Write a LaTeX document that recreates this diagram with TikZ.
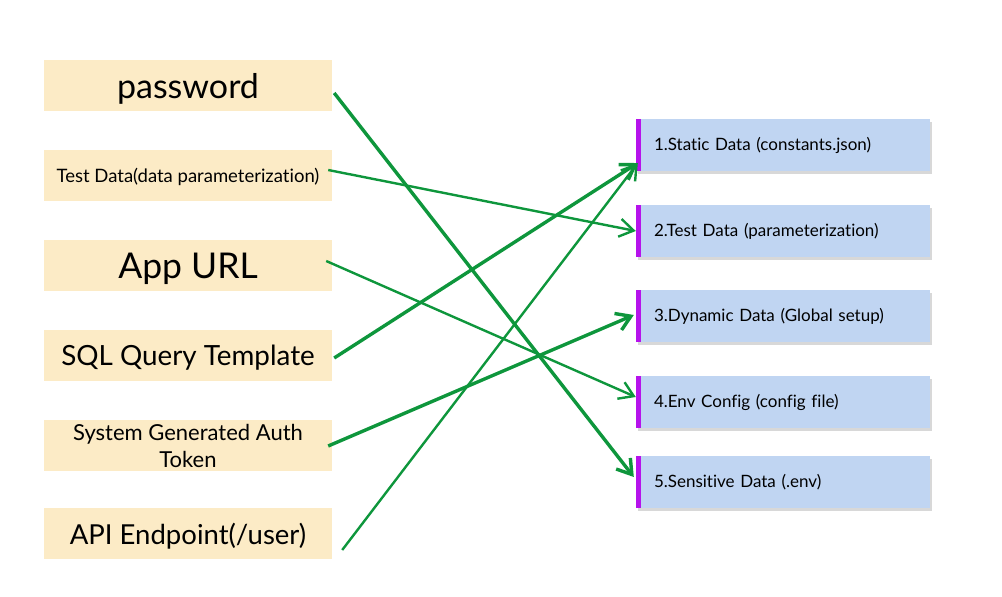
\documentclass[tikz,border=0pt]{standalone}
\usepackage{fontspec}
\setmainfont{Lato}[Ligatures=NoCommon]
\usetikzlibrary{arrows.meta, shadows}
\definecolor{peach}{RGB}{252,235,198}
\definecolor{paleblue}{RGB}{192,213,242}
\definecolor{stripe}{RGB}{182,18,236}
\definecolor{linkgreen}{RGB}{14,150,60}

\begin{document}
\begin{tikzpicture}[x=1pt, y=-1pt,
    srcbox/.style={fill=peach, minimum width=288pt, minimum height=51pt, inner sep=2pt, align=center, text depth=0pt},
    dstbox/.style={fill=paleblue, minimum width=294pt, minimum height=52pt, text width=258pt,
      align=left, font=\fontsize{17}{20}\selectfont,
      drop shadow={shadow xshift=1.5pt, shadow yshift=-2.5pt, fill=black!30}},
    link/.style={draw=linkgreen, -{Straight Barb[length=14pt, width=18pt]}}]
  \useasboundingbox (0,0) rectangle (1002,597);

  % sources on the left
  \foreach \name/\y/\fs/\lh/\txt in {l1/85.5/34/38/password,
      l2/175.5/18.5/22/Test Data(data parameterization),
      l3/265.5/35.5/40/App URL,
      l4/355.5/27.8/32/SQL Query Template,
      l5/445.5/22/27/{System Generated Auth\\Token},
      l6/533.5/27.5/32/{API Endpoint(/user)}} {
    \node[srcbox, font=\fontsize{\fs}{\lh}\selectfont] (\name) at (188,\y) {\txt};
  }

  % targets on the right, each with a purple stripe
  \foreach \name/\y/\txt in {r1/145/1.Static Data (constants.json),
      r2/231/2.Test Data (parameterization),
      r3/316/3.Dynamic Data (Global setup),
      r4/402/4.Env Config (config file),
      r5/482/5.Sensitive Data (.env)} {
    \node[dstbox] (\name) at (783,\y) {\txt};
    \fill[stripe] (\name.north west) rectangle ([xshift=5.5pt]\name.south west);
  }

  % links
  \foreach \a/\b/\sa/\sb/\w in {l1/r5/{2,7.5}/{-2,-5}/3.4pt,
      l2/r2/{-4,-5.5}/{0,0}/2.4pt,
      l3/r4/{-6,-4.5}/{0,-5}/2.4pt,
      l4/r1/{2,2.5}/{2,18}/3.4pt,
      l5/r3/{-4,0.5}/{-2,-1}/3.4pt,
      l6/r1/{10,16.5}/{2,18}/2.4pt} {
    \draw[link, line width=\w] ([shift={(\sa)}]\a.east) -- ([shift={(\sb)}]\b.west);
  }
\end{tikzpicture}
\end{document}
